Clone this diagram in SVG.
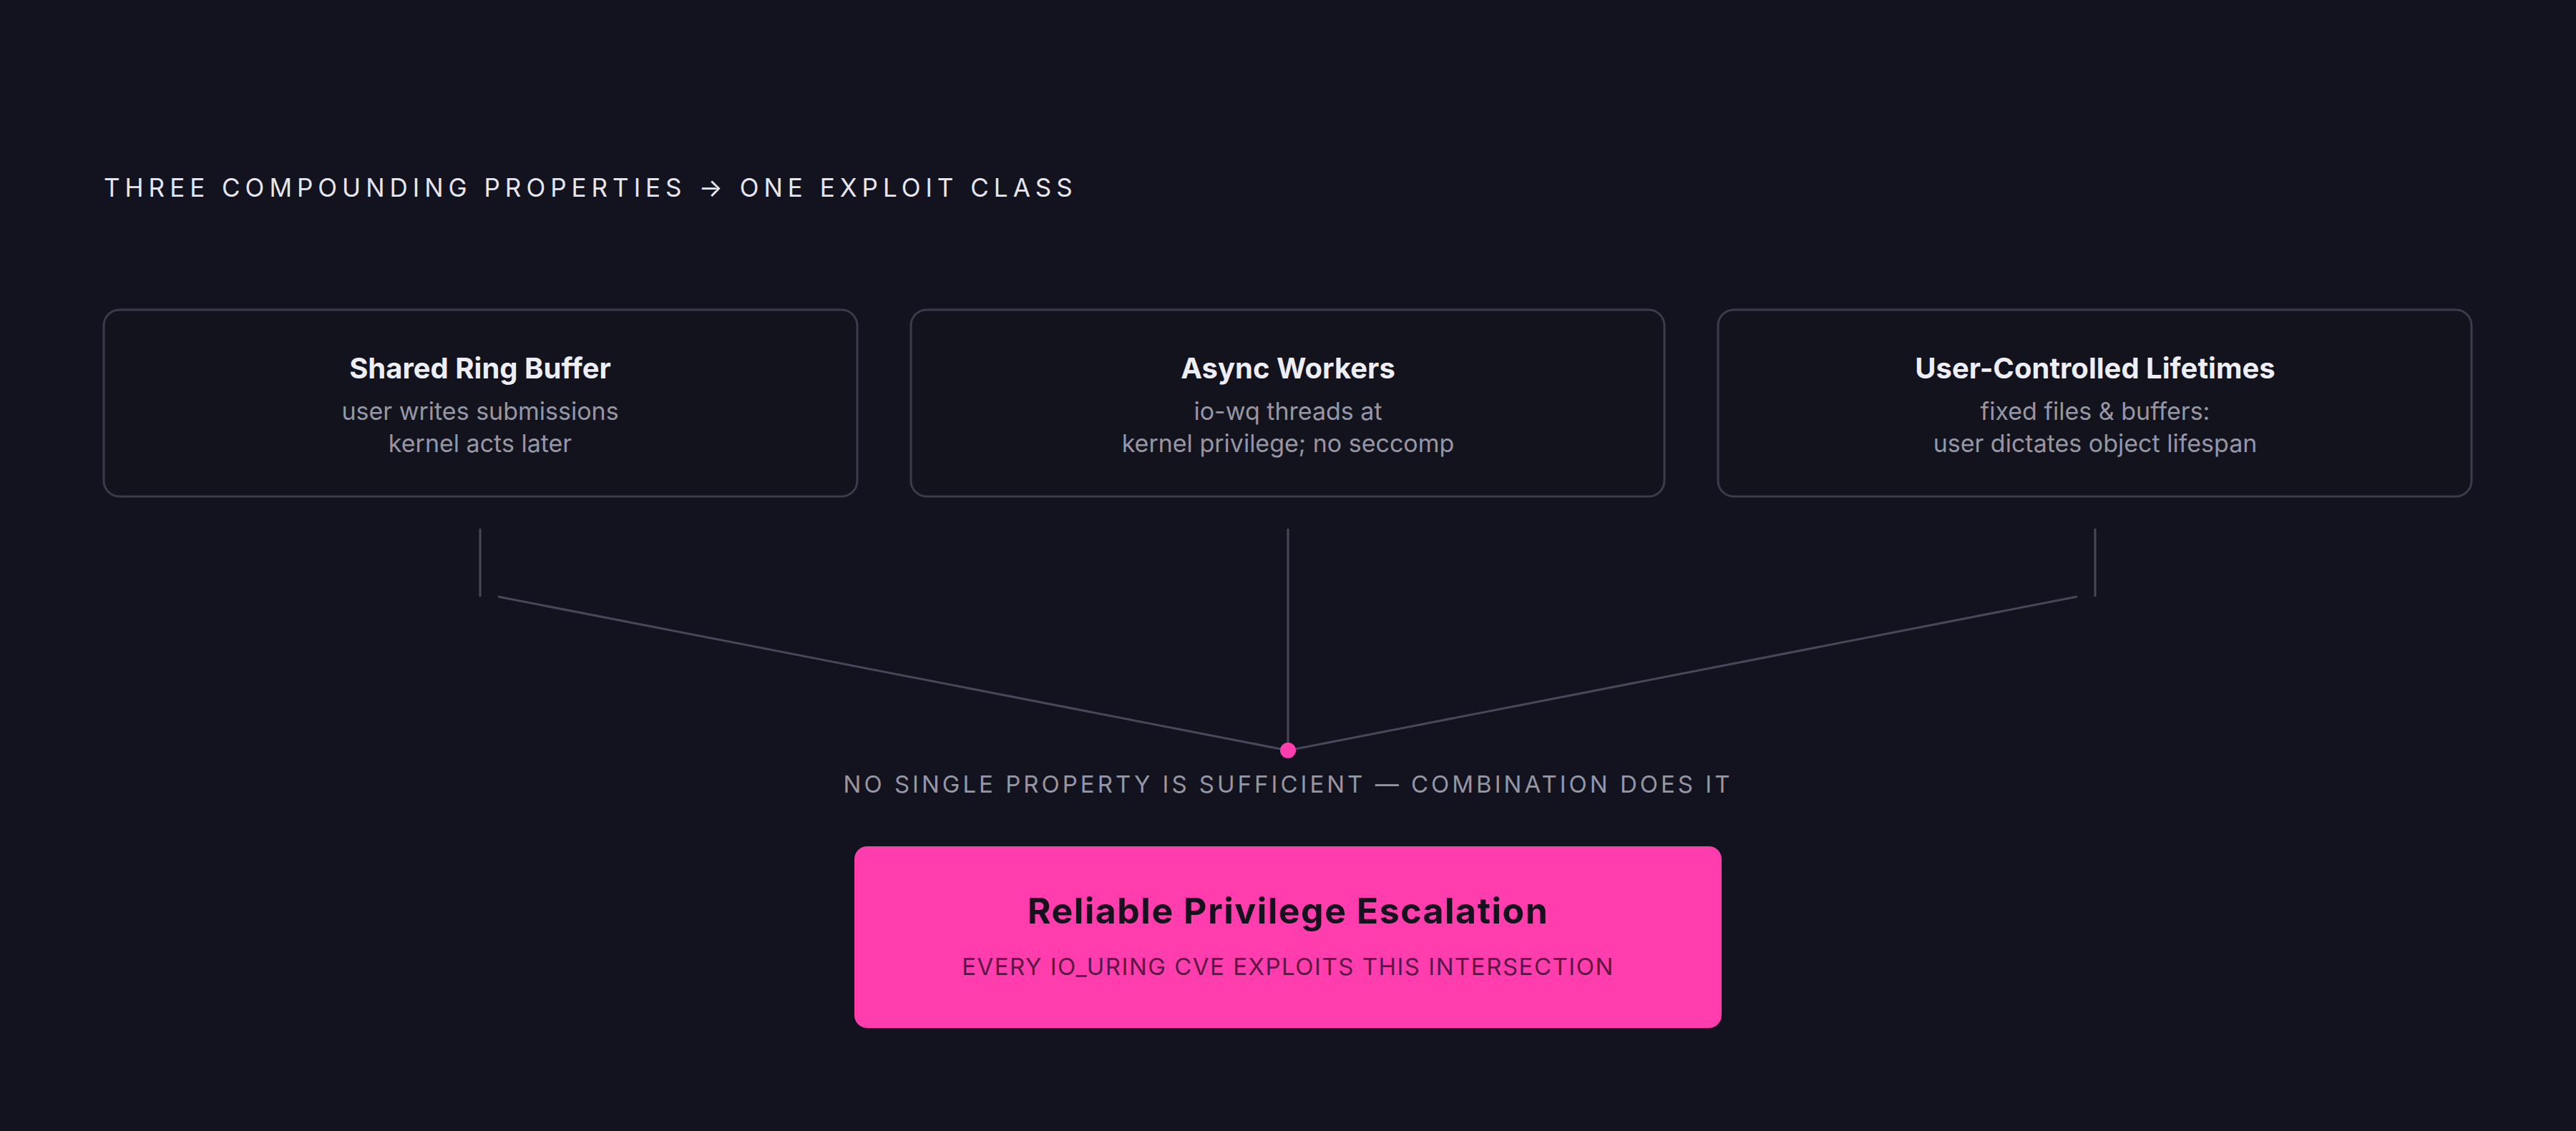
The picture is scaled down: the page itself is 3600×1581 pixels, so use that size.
<svg xmlns="http://www.w3.org/2000/svg" width="3600" height="1581" viewBox="0 0 3600 1581">
<style>
text{font-family:Inter,"Liberation Sans",sans-serif}
.box{fill:#13131e;stroke:#3b3b4b;stroke-width:3}
.t{font-size:40px;font-weight:700;fill:#eeeef6;text-anchor:middle}
.s{font-size:34px;fill:#9696a4;text-anchor:middle}
.ln{stroke:#48485a;stroke-width:3;fill:none}
</style>
<rect width="3600" height="1581" fill="#12131e"/>
<text x="145" y="275" font-size="35" fill="#e6e6f0" letter-spacing="7">THREE COMPOUNDING PROPERTIES → ONE EXPLOIT CLASS</text>
<g id="n1"><rect class="box" x="145" y="433" width="1053" height="261" rx="22"/>
<text class="t" x="671" y="529">Shared Ring Buffer</text>
<text class="s" x="671" y="587">user writes submissions</text>
<text class="s" x="671" y="632">kernel acts later</text></g>
<g id="n2"><rect class="box" x="1273" y="433" width="1053" height="261" rx="22"/>
<text class="t" x="1800" y="529">Async Workers</text>
<text class="s" x="1800" y="587">io-wq threads at</text>
<text class="s" x="1800" y="632">kernel privilege; no seccomp</text></g>
<g id="n3"><rect class="box" x="2401" y="433" width="1053" height="261" rx="22"/>
<text class="t" x="2928" y="529">User-Controlled Lifetimes</text>
<text class="s" x="2928" y="587">fixed files &amp; buffers:</text>
<text class="s" x="2928" y="632">user dictates object lifespan</text></g>
<g id="connectors">
<line class="ln" x1="671" y1="739" x2="671" y2="834"/>
<line class="ln" x1="696" y1="834" x2="1800" y2="1049"/>
<line class="ln" x1="1800" y1="739" x2="1800" y2="1049"/>
<line class="ln" x1="2928" y1="739" x2="2928" y2="834"/>
<line class="ln" x1="2903" y1="834" x2="1800" y2="1049"/>
<circle cx="1800" cy="1049" r="11" fill="#ff3dac"/>
</g>
<text x="1800" y="1108" font-size="33" fill="#9696a4" text-anchor="middle" letter-spacing="4">NO SINGLE PROPERTY IS SUFFICIENT — COMBINATION DOES IT</text>
<g id="result"><rect x="1194" y="1183" width="1212" height="254" rx="18" fill="#ff3dac"/>
<text x="1800" y="1291" font-size="50" font-weight="700" fill="#14121c" text-anchor="middle" letter-spacing="1.5">Reliable Privilege Escalation</text>
<text x="1800" y="1363" font-size="33" fill="#5a1745" text-anchor="middle" letter-spacing="1.5">EVERY IO_URING CVE EXPLOITS THIS INTERSECTION</text></g>
</svg>
